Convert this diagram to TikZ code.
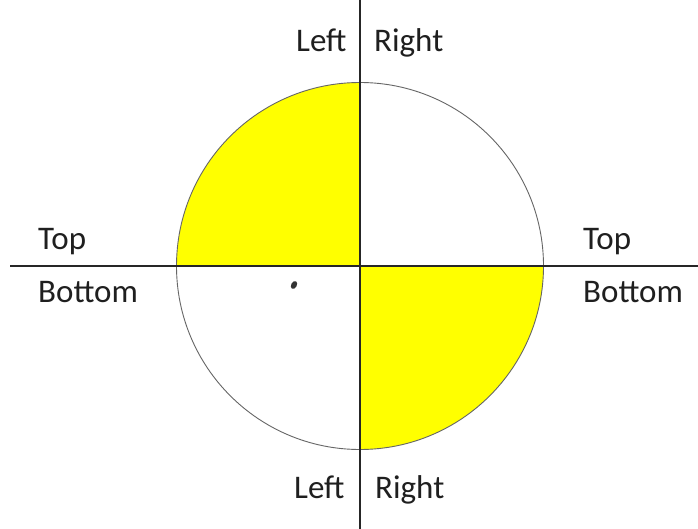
\documentclass[tikz,border=0pt]{standalone}
\usepackage{fontspec}
\setmainfont{Carlito}
\definecolor{yel}{RGB}{255,255,0}
\begin{document}
\begin{tikzpicture}[x=1pt,y=-1pt,
  lbl/.style={font=\fontsize{33}{36}\selectfont, text=black!88, inner sep=0pt},
  axis/.style={line width=1.4pt, draw=black!85},
  rim/.style={line width=0.9pt, draw=black!60}]
\useasboundingbox[fill=white] (0,0) rectangle (698,529);
\coordinate (c) at (360,266);
\begin{scope}
  \clip (c) circle [radius=183.5];
  \fill[yel] (170,70) rectangle (c);
  \fill[yel] (c) rectangle (550,460);
\end{scope}
\draw[rim] (c) circle [radius=183.5];
\coordinate (vt) at (360,0);
\coordinate (vb) at (360,529);
\coordinate (hl) at (10,266);
\coordinate (hr) at (698,266);
\draw[axis] (vt) -- (vb);
\draw[axis] (hl) -- (hr);
\fill[black!80, rotate around={60:(294,285)}] (294,285) ellipse [x radius=4.2, y radius=2.8];
\node[lbl, anchor=base west] (tl) at (296,52) {Left};
\node[lbl, anchor=base west] (tr) at (374,52) {Right};
\node[lbl, anchor=base west] (lt) at (38,249) {Top};
\node[lbl, anchor=base west] (lb) at (38,302) {Bottom};
\node[lbl, anchor=base west] (rt) at (583,249) {Top};
\node[lbl, anchor=base west] (rb) at (583,302) {Bottom};
\node[lbl, anchor=base west] (bl) at (294,498) {Left};
\node[lbl, anchor=base west] (br) at (375,498) {Right};
\end{tikzpicture}
\end{document}
